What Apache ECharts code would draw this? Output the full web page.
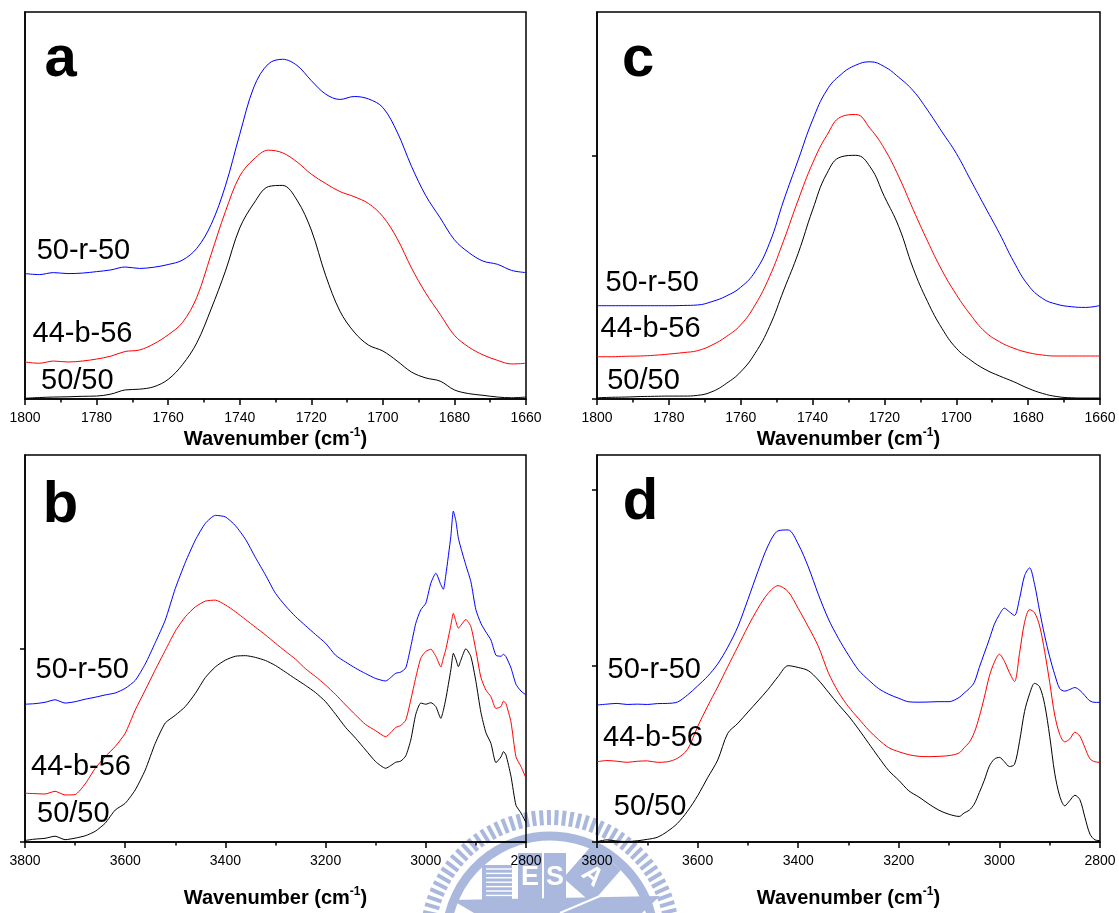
<!DOCTYPE html>
<html>
<head>
<meta charset="utf-8">
<script src="https://cdn.jsdelivr.net/npm/echarts@6/dist/echarts.min.js"></script>
<style>
  html, body { margin: 0; padding: 0; background: #fff; }
  #chart { width: 1119px; height: 913px; }
</style>
</head>
<body>
<div id="chart"></div>
<script>
// ---------- data ----------
// Carbonyl stretching region (panels a and c), wavenumber in cm-1
const waveCO = [1800,1796,1792,1788,1784,1780,1776,1772,1768,1764,1760,1756,1752,1748,1744,1740,1736,1732,1728,1724,1720,1716,1712,1708,1704,1700,1696,1692,1688,1684,1680,1676,1672,1668,1664,1660];

const a_5050  = [0.003,0.006,0.008,0.009,0.011,0.012,0.020,0.037,0.040,0.050,0.080,0.140,0.229,0.367,0.522,0.698,0.800,0.867,0.872,0.812,0.690,0.505,0.359,0.273,0.220,0.196,0.155,0.110,0.086,0.073,0.037,0.022,0.015,0.008,0.005,0.008];
const a_44b56 = [0.151,0.146,0.155,0.151,0.155,0.163,0.175,0.194,0.200,0.225,0.262,0.312,0.415,0.590,0.765,0.910,0.980,1.016,1.005,0.968,0.918,0.880,0.847,0.826,0.798,0.745,0.655,0.535,0.432,0.346,0.260,0.212,0.180,0.158,0.143,0.146];
const a_50r50 = [0.512,0.508,0.516,0.512,0.514,0.520,0.527,0.539,0.533,0.538,0.549,0.567,0.615,0.712,0.870,1.080,1.275,1.368,1.387,1.362,1.300,1.245,1.223,1.235,1.225,1.190,1.090,0.950,0.830,0.740,0.650,0.598,0.563,0.550,0.525,0.516];

const c_5050  = [0.005,0.007,0.008,0.010,0.011,0.012,0.012,0.015,0.030,0.064,0.112,0.188,0.298,0.449,0.600,0.778,0.929,0.997,1.003,0.956,0.833,0.709,0.538,0.401,0.291,0.209,0.160,0.122,0.095,0.071,0.044,0.023,0.010,0.005,0.004,0.004];
const c_44b56 = [0.174,0.174,0.176,0.177,0.180,0.185,0.191,0.199,0.222,0.257,0.305,0.387,0.503,0.654,0.819,0.970,1.086,1.162,1.171,1.114,1.030,0.915,0.780,0.650,0.530,0.430,0.346,0.277,0.236,0.209,0.191,0.181,0.177,0.177,0.177,0.177];
const c_50r50 = [0.384,0.384,0.384,0.384,0.384,0.384,0.385,0.387,0.401,0.424,0.460,0.524,0.641,0.819,0.984,1.148,1.272,1.337,1.374,1.388,1.368,1.324,1.269,1.189,1.100,1.011,0.901,0.791,0.682,0.565,0.469,0.414,0.390,0.380,0.377,0.385];

// O-H / C-H stretching region, panel b
const waveB = [3800,3780,3760,3740,3720,3700,3680,3660,3640,3620,3600,3580,3560,3540,3520,3500,3480,3460,3440,3420,3400,3380,3360,3340,3320,3300,3280,3260,3240,3220,3200,3180,3160,3140,3120,3100,3080,3070,3060,3050,3040,3030,3020,3010,3000,2990,2980,2970,2965,2960,2950,2945,2940,2935,2930,2920,2910,2900,2890,2880,2870,2860,2850,2845,2840,2830,2820,2810,2800];

const b_5050  = [0.008,0.015,0.019,0.030,0.012,0.020,0.032,0.055,0.097,0.165,0.200,0.269,0.372,0.510,0.615,0.655,0.700,0.768,0.850,0.905,0.940,0.960,0.963,0.954,0.938,0.912,0.878,0.843,0.809,0.772,0.725,0.660,0.592,0.536,0.475,0.415,0.381,0.395,0.412,0.418,0.445,0.527,0.660,0.718,0.712,0.720,0.700,0.639,0.680,0.740,0.890,0.975,0.945,0.906,0.940,0.999,0.958,0.830,0.670,0.565,0.510,0.410,0.440,0.467,0.450,0.340,0.190,0.150,0.100];
const b_44b56 = [0.252,0.250,0.248,0.262,0.243,0.245,0.300,0.380,0.441,0.493,0.562,0.682,0.785,0.890,0.990,1.090,1.164,1.215,1.245,1.250,1.225,1.190,1.150,1.110,1.070,1.027,0.985,0.945,0.895,0.855,0.811,0.762,0.708,0.656,0.607,0.575,0.544,0.565,0.592,0.602,0.630,0.734,0.850,0.950,0.985,0.996,0.960,0.905,0.950,0.995,1.120,1.182,1.140,1.105,1.120,1.150,1.113,0.990,0.850,0.785,0.751,0.690,0.700,0.728,0.715,0.620,0.440,0.390,0.330];
const b_50r50 = [0.712,0.715,0.722,0.735,0.718,0.725,0.738,0.748,0.760,0.770,0.794,0.835,0.920,1.030,1.147,1.310,1.445,1.560,1.647,1.688,1.680,1.635,1.565,1.470,1.380,1.285,1.220,1.165,1.118,1.072,1.027,0.965,0.930,0.898,0.870,0.845,0.832,0.850,0.872,0.878,0.900,1.009,1.130,1.200,1.234,1.337,1.389,1.330,1.306,1.380,1.580,1.710,1.660,1.570,1.520,1.430,1.345,1.200,1.130,1.085,1.044,0.965,0.960,0.970,0.958,0.900,0.815,0.780,0.760];

// O-H / C-H stretching region, panel d
const waveD = [3800,3780,3760,3740,3720,3700,3680,3660,3640,3620,3600,3580,3560,3540,3520,3500,3480,3460,3440,3420,3400,3380,3360,3340,3320,3300,3280,3260,3240,3220,3200,3180,3160,3140,3120,3100,3080,3070,3060,3050,3040,3030,3020,3010,3000,2990,2980,2970,2960,2950,2940,2930,2920,2910,2900,2890,2880,2870,2860,2850,2840,2830,2820,2810,2800];

const d_5050  = [0.002,0.012,0.005,0.003,0.007,0.015,0.027,0.060,0.106,0.175,0.262,0.365,0.465,0.617,0.673,0.737,0.800,0.865,0.938,1.000,0.990,0.972,0.919,0.850,0.780,0.715,0.640,0.560,0.480,0.405,0.350,0.290,0.255,0.215,0.180,0.157,0.145,0.165,0.180,0.215,0.280,0.350,0.430,0.470,0.480,0.455,0.428,0.440,0.570,0.740,0.840,0.900,0.880,0.780,0.600,0.390,0.260,0.205,0.235,0.265,0.240,0.140,0.045,0.012,0.008];
const d_44b56 = [0.455,0.462,0.458,0.452,0.458,0.460,0.452,0.455,0.475,0.525,0.654,0.770,0.880,0.995,1.108,1.222,1.325,1.410,1.454,1.420,1.325,1.221,1.110,0.960,0.850,0.767,0.700,0.635,0.580,0.535,0.512,0.495,0.486,0.484,0.486,0.490,0.505,0.535,0.565,0.620,0.710,0.820,0.940,1.020,1.065,1.025,0.960,0.910,1.070,1.245,1.318,1.300,1.225,1.080,0.905,0.720,0.610,0.568,0.585,0.622,0.600,0.535,0.472,0.455,0.452];
const d_50r50 = [0.777,0.782,0.786,0.780,0.782,0.780,0.785,0.786,0.794,0.834,0.885,0.940,1.010,1.105,1.221,1.375,1.535,1.680,1.765,1.770,1.690,1.561,1.405,1.265,1.155,1.060,0.975,0.919,0.870,0.838,0.815,0.795,0.793,0.794,0.796,0.796,0.820,0.845,0.870,0.905,0.990,1.070,1.150,1.235,1.290,1.326,1.305,1.285,1.380,1.510,1.555,1.460,1.310,1.170,1.050,0.950,0.870,0.856,0.865,0.876,0.860,0.830,0.800,0.792,0.792];

const sampleNames = ['50/50', '44-b-56', '50-r-50'];
const sampleColors = ['#000000', '#ff0000', '#0000ff'];
const panelLetters = ['a', 'b', 'c', 'd'];
const axisTitle = '{t|Wavenumber (cm}{s|-1}{t|)}';

// ---------- layout ----------
const FONT = '"Liberation Sans", Arial, Helvetica, sans-serif';
const BLACK = '#000';

const panels = [
  { letter: panelLetters[0], grid: { left: 25,  top: 12,  width: 501, height: 387 }, wave: waveCO, curves: [a_5050, a_44b56, a_50r50],
    range: 'co', ymax: 1.58,  yticks: [], smooth: 0.35,
    letterPos: [44.5, 59.7], labelPos: [[41, 381], [32.5, 334], [36.7, 251]] },
  { letter: panelLetters[1], grid: { left: 25,  top: 455, width: 501, height: 387 }, wave: waveB,  curves: [b_5050, b_44b56, b_50r50],
    range: 'oh', ymax: 2.0,   yticks: [0, 1], smooth: 0.2,
    letterPos: [42.7, 505.7], labelPos: [[37, 814], [31, 767], [35.5, 670]] },
  { letter: panelLetters[2], grid: { left: 597, top: 12,  width: 503, height: 387 }, wave: waveCO, curves: [c_5050, c_44b56, c_50r50],
    range: 'co', ymax: 1.593, yticks: [0, 1], smooth: 0.45,
    letterPos: [622, 59.7],   labelPos: [[607.2, 381], [600.6, 329], [605.5, 282.5]] },
  { letter: panelLetters[3], grid: { left: 597, top: 455, width: 503, height: 387 }, wave: waveD,  curves: [d_5050, d_44b56, d_50r50],
    range: 'oh', ymax: 2.195, yticks: [0, 1, 2], smooth: 0.3,
    letterPos: [622.7, 502.7], labelPos: [[613.8, 807], [603, 738], [607.5, 670]] }
];

const axisLineStyle = { color: BLACK, width: 1.5 };

const grids = panels.map(p => Object.assign({ show: true, borderColor: BLACK, borderWidth: 1.5, backgroundColor: 'transparent' }, p.grid));

const xAxes = panels.map((p, i) => {
  const co = p.range === 'co';
  return {
    type: 'value', gridIndex: i, inverse: true,
    min: co ? 1660 : 2800, max: co ? 1800 : 3800, interval: co ? 20 : 200,
    axisLine: { show: true, onZero: false, lineStyle: axisLineStyle },
    axisTick: { show: true, inside: false, length: 6, lineStyle: { color: BLACK, width: 1.5 } },
    minorTick: { show: true, splitNumber: 2, length: 3.5, lineStyle: { color: BLACK, width: 1.5 } },
    axisLabel: { show: true, color: BLACK, fontFamily: FONT, fontSize: 14, margin: 12, formatter: v => String(v) },
    splitLine: { show: false },
    name: axisTitle, nameLocation: 'middle', nameGap: co ? 28 : 44,
    nameTextStyle: {
      rich: {
        t: { fontFamily: FONT, fontSize: 20, fontWeight: 'bold', color: BLACK, lineHeight: 24 },
        s: { fontFamily: FONT, fontSize: 12, fontWeight: 'bold', color: BLACK, lineHeight: 12, verticalAlign: 'top' }
      }
    }
  };
});

const yAxes = panels.map((p, i) => ({
  type: 'value', gridIndex: i, min: 0, max: p.ymax,
  axisLine: { show: true, onZero: false, lineStyle: axisLineStyle },
  axisTick: { show: p.yticks.length > 0, inside: false, length: 5, customValues: p.yticks, lineStyle: { color: BLACK, width: 1.5 } },
  axisLabel: { show: false },
  splitLine: { show: false }
}));

const series = [];
panels.forEach((p, i) => {
  p.curves.forEach((vals, k) => {
    series.push({
      name: p.letter + ' ' + sampleNames[k],
      type: 'line', xAxisIndex: i, yAxisIndex: i,
      data: p.wave.map((w, j) => [w, vals[j]]),
      showSymbol: false, symbol: 'none', smooth: p.smooth, silent: true, z: 3,
      lineStyle: { color: sampleColors[k], width: 1 }
    });
  });
});

// panel letters and sample labels
const texts = [];
panels.forEach(p => {
  texts.push({
    type: 'text', x: p.letterPos[0], y: p.letterPos[1], z: 10,
    style: { text: p.letter, fill: BLACK, font: 'bold 58px ' + FONT,
             align: 'left', verticalAlign: 'middle', textAlign: 'left', textVerticalAlign: 'middle' }
  });
  sampleNames.forEach((nm, k) => {
    texts.push({
      type: 'text', x: p.labelPos[k][0], y: p.labelPos[k][1], z: 10,
      style: { text: nm, fill: BLACK, font: '29px ' + FONT,
               align: 'left', verticalAlign: 'middle', textAlign: 'left', textVerticalAlign: 'middle' }
    });
  });
});

// institutional seal printed faintly behind the lower panels
const WM = '#a9b8dc';
const seal = [];
const cx = 550, cy = 940;
for (let deg = -80; deg <= 80.01; deg += 3.5) {
  seal.push({ type: 'rect', x: cx, y: cy, rotation: deg * Math.PI / 180, z: -1,
              shape: { x: -2, y: -130, width: 4, height: 15 }, style: { fill: WM } });
}
seal.push({ type: 'arc', z: -1, shape: { cx: cx, cy: cy, r: 104, startAngle: -Math.PI * 0.98, endAngle: -Math.PI * 0.02, clockwise: true },
            style: { stroke: WM, lineWidth: 9, fill: null } });
seal.push({ type: 'rect', z: -1, shape: { x: 482, y: 865, width: 30, height: 35 }, style: { fill: WM } });
for (let yy = 869; yy < 898; yy += 4.4) {
  seal.push({ type: 'line', z: -1, shape: { x1: 486, y1: yy, x2: 512, y2: yy }, style: { stroke: '#fff', lineWidth: 1.4 } });
}
seal.push({ type: 'rect', z: -1, shape: { x: 518, y: 853, width: 24, height: 47 }, style: { fill: WM } });
seal.push({ type: 'rect', z: -1, shape: { x: 544, y: 853, width: 22, height: 47 }, style: { fill: WM } });
seal.push({ type: 'text', z: -1, x: 530, y: 878, style: { text: 'E', fill: '#fff', font: 'bold 27px ' + FONT, align: 'center', verticalAlign: 'middle', textAlign: 'center', textVerticalAlign: 'middle' } });
seal.push({ type: 'text', z: -1, x: 555, y: 878, style: { text: 'S', fill: '#fff', font: 'bold 27px ' + FONT, align: 'center', verticalAlign: 'middle', textAlign: 'center', textVerticalAlign: 'middle' } });
seal.push({ type: 'rect', z: -1, x: 592, y: 874, rotation: -0.72, shape: { x: -19, y: -22, width: 38, height: 44 }, style: { fill: WM } });
seal.push({ type: 'text', z: -1, x: 592, y: 876, rotation: -0.72, style: { text: 'A', fill: '#fff', font: 'bold 26px ' + FONT, align: 'center', verticalAlign: 'middle', textAlign: 'center', textVerticalAlign: 'middle' } });
seal.push({ type: 'polygon', z: -1, shape: { points: [[452, 900], [660, 896], [642, 913], [474, 913]] }, style: { fill: WM } });
seal.push({ type: 'line', z: -1, shape: { x1: 560, y1: 913, x2: 600, y2: 896 }, style: { stroke: '#fff', lineWidth: 2 } });

const chart = echarts.init(document.getElementById('chart'), null, { renderer: 'canvas' });
chart.setOption({
  animation: false,
  backgroundColor: '#fff',
  grid: grids,
  xAxis: xAxes,
  yAxis: yAxes,
  series: series,
  graphic: { elements: seal.concat(texts) }
});
</script>
</body>
</html>
